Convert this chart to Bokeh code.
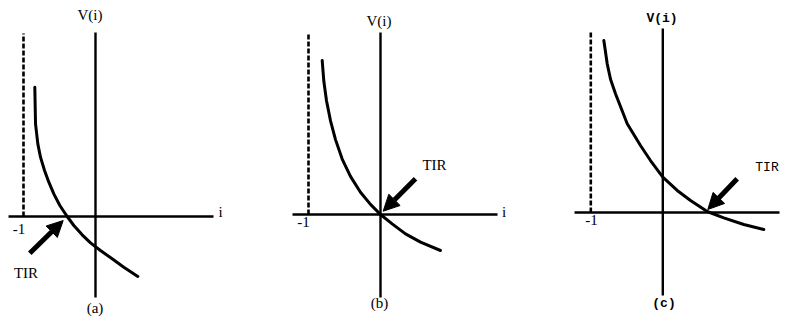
from bokeh.plotting import figure
from bokeh.layouts import row
from bokeh.models import Arrow, NormalHead
from bokeh.core.properties import value
from bokeh.embed import file_html
from bokeh.resources import INLINE

# ---------------- data (in units of i and V(i)) ----------------
# panel (a): TIR crossing at negative i
a_i = [-0.843, -0.833, -0.801, -0.764, -0.708, -0.648, -0.579, -0.495, -0.403,
       -0.301, -0.185, -0.069, 0.069, 0.231, 0.393, 0.588]
a_V = [1.796, 1.287, 1.009, 0.824, 0.639, 0.477, 0.315, 0.153, 0.014,
       -0.125, -0.255, -0.366, -0.472, -0.588, -0.704, -0.833]

# panel (b): TIR crossing at the origin
b_i = [-0.810, -0.787, -0.750, -0.694, -0.625, -0.532, -0.417, -0.278, -0.139,
       0.0, 0.162, 0.347, 0.556, 0.833]
b_V = [2.139, 1.850, 1.580, 1.300, 1.040, 0.770, 0.530, 0.310, 0.140,
       0.0, -0.130, -0.269, -0.384, -0.500]

# panel (c): TIR crossing at positive i
c_i = [-0.819, -0.772, -0.726, -0.657, -0.494, -0.310, -0.171, 0.0, 0.200,
       0.385, 0.617, 0.847, 1.125, 1.403]
c_V = [2.389, 2.065, 1.850, 1.649, 1.232, 0.931, 0.722, 0.490, 0.306,
       0.167, 0.014, -0.074, -0.167, -0.236]

asymptote_i = -1.0

# axis extents per panel: i extent of the i-axis, V extent of the V-axis,
# V extent of the dashed asymptote
a_haxis = [-1.208, 1.639]; a_vaxis = [-1.125, 2.556]; a_dash = [0.0, 2.54]
b_haxis = [-1.222, 1.625]; b_vaxis = [-1.153, 2.528]; b_dash = [0.0, 2.514]
c_haxis = [-1.226, 1.621]; c_vaxis = [-1.153, 2.556]; c_dash = [0.0, 2.50]

# TIR arrows: tail (i, V) -> tip (i, V)
a_arrow = [-0.913, -0.510, -0.449, -0.056]
b_arrow = [0.486, 0.496, 0.037, 0.046]
c_arrow = [1.033, 0.468, 0.625, 0.042]

# label texts and anchor positions
a_labels = ["V(i)", "i", "-1", "TIR", "(a)"]
a_lab_i = [-0.076, 1.736, -1.063, -0.965, -0.007]
a_lab_V = [2.792, 0.056, -0.167, -0.778, -1.264]

b_labels = ["V(i)", "i", "-1", "TIR", "(b)"]
b_lab_i = [-0.021, 1.715, -1.069, 0.750, -0.014]
b_lab_V = [2.685, 0.028, -0.111, 0.681, -1.236]

c_labels_bold = ["V(i)", "(c)"]
c_lab_i = [-0.011, 0.017]
c_lab_V = [2.694, -1.260]
c_tir = ["TIR"]
c_tir_i = [1.447]
c_tir_V = [0.629]
c_minus = ["-1"]
c_minus_i = [-0.990]
c_minus_V = [-0.111]

PX = 72.0   # screen pixels per unit
H = 320

SERIF = value("Liberation Serif")
MONO = value("Liberation Mono")


def make_panel(w, ox, oy):
    p = figure(width=w, height=H,
               x_range=(-ox / PX, (w - ox) / PX),
               y_range=((oy - H) / PX, oy / PX),
               x_axis_type=None, y_axis_type=None,
               toolbar_location=None, output_backend="svg",
               min_border=0, outline_line_color=None,
               background_fill_color="white", border_fill_color="white")
    p.grid.visible = False
    return p


def draw_common(p, ci, cV, haxis, vaxis, dash, arrow):
    p.line(haxis, [0, 0], line_color="black", line_width=2.4)
    p.line([0, 0], vaxis, line_color="black", line_width=2.4)
    p.line([asymptote_i, asymptote_i], dash, line_color="black",
           line_width=2.6, line_dash="5 2")
    p.line(ci, cV, line_color="black", line_width=3,
           line_join="round", line_cap="round")
    p.add_layout(Arrow(end=NormalHead(size=16, fill_color="black",
                                      line_color="black", line_width=1),
                       x_start=arrow[0], y_start=arrow[1],
                       x_end=arrow[2], y_end=arrow[3],
                       line_color="black", line_width=5))


pa = make_panel(284, 95, 216)
draw_common(pa, a_i, a_V, a_haxis, a_vaxis, a_dash, a_arrow)
pa.text(a_lab_i, a_lab_V, text=a_labels, text_font=SERIF,
        text_font_size="15px", text_align="center", text_baseline="middle",
        text_color="black")

pb = make_panel(276, 96, 214)
draw_common(pb, b_i, b_V, b_haxis, b_vaxis, b_dash, b_arrow)
pb.text(b_lab_i, b_lab_V, text=b_labels, text_font=SERIF,
        text_font_size="15px", text_align="center", text_baseline="middle",
        text_color="black")

pc = make_panel(228, 102.3, 212)
draw_common(pc, c_i, c_V, c_haxis, c_vaxis, c_dash, c_arrow)
pc.text(c_lab_i, c_lab_V, text=c_labels_bold, text_font=MONO,
        text_font_size="13px", text_font_style="bold", text_align="center",
        text_baseline="middle", text_color="black")
pc.text(c_tir_i, c_tir_V, text=c_tir, text_font=MONO,
        text_font_size="13px", text_align="center",
        text_baseline="middle", text_color="black")
pc.text(c_minus_i, c_minus_V, text=c_minus, text_font=SERIF,
        text_font_size="15px", text_align="center", text_baseline="middle",
        text_color="black")

layout = row(pa, pb, pc)
open("out.html", "w").write(file_html(layout, INLINE))
